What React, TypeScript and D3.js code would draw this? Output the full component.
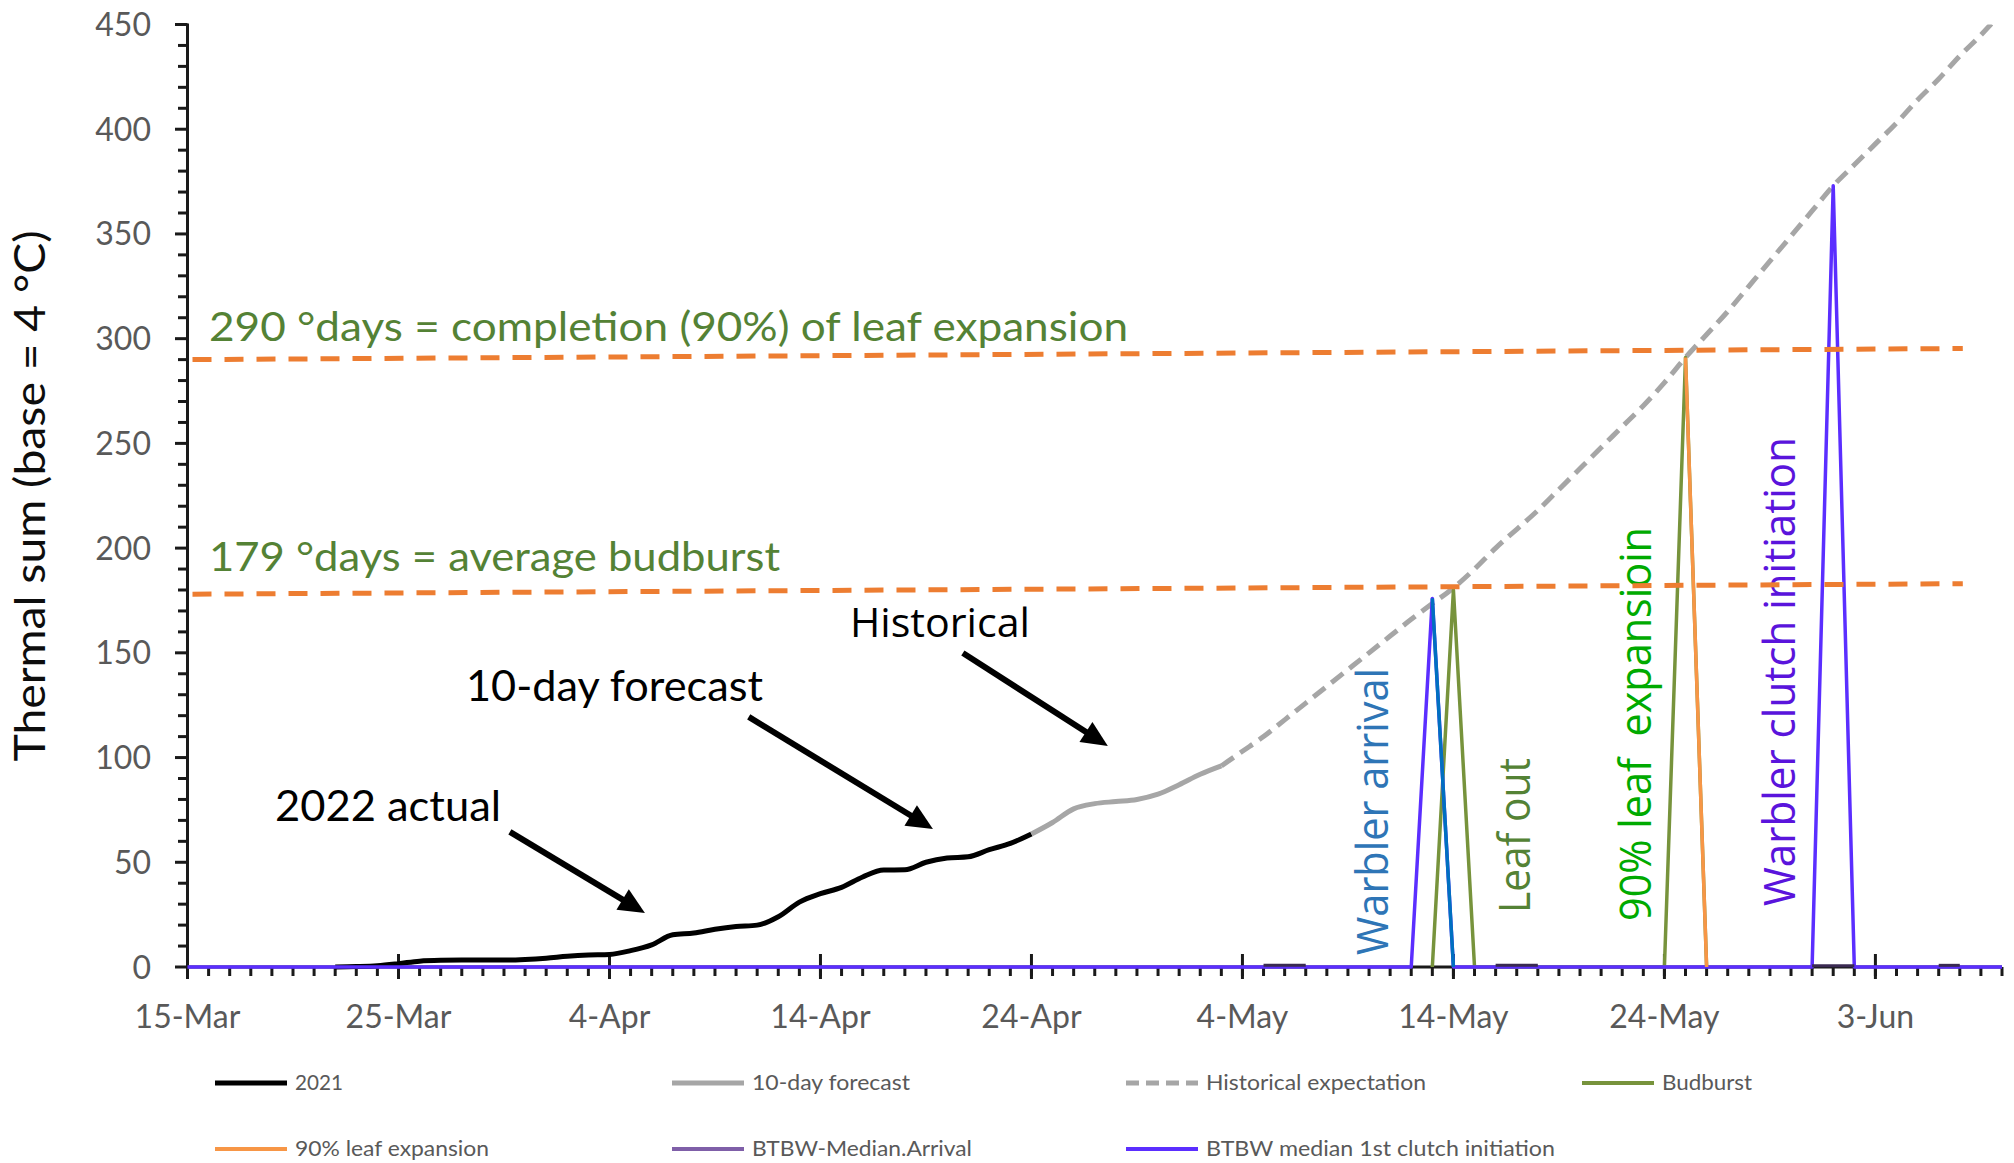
import React from "react";
import * as d3 from "d3";

// ---------- data ----------
const YEAR = 2022;
const axisStart = "15-Mar";
const axisEnd = "9-Jun";
const yTickValues = [0, 50, 100, 150, 200, 250, 300, 350, 400, 450];
const xTickLabels = ["15-Mar", "25-Mar", "4-Apr", "14-Apr", "24-Apr", "4-May", "14-May", "24-May", "3-Jun"];

// 2022 actual (legend "2021")
const actualSeries: [string, number][] = [
  ["22-Mar", 0], ["23-Mar", 0.2], ["24-Mar", 0.6], ["25-Mar", 1.6], ["26-Mar", 2.8], ["27-Mar", 3.2],
  ["28-Mar", 3.3], ["29-Mar", 3.3], ["30-Mar", 3.3], ["31-Mar", 3.6], ["1-Apr", 4.2], ["2-Apr", 5.1],
  ["3-Apr", 5.7], ["4-Apr", 6], ["5-Apr", 7.8], ["6-Apr", 10.6], ["7-Apr", 15.4], ["8-Apr", 16.2],
  ["9-Apr", 18], ["10-Apr", 19.3], ["11-Apr", 20], ["12-Apr", 24], ["13-Apr", 31], ["14-Apr", 35],
  ["15-Apr", 38], ["16-Apr", 43], ["17-Apr", 46.3], ["18-Apr", 46.4], ["19-Apr", 50], ["20-Apr", 52],
  ["21-Apr", 52.6], ["22-Apr", 56], ["23-Apr", 59], ["24-Apr", 63.5],
];
const forecastSeries: [string, number][] = [
  ["24-Apr", 63.5], ["25-Apr", 69], ["26-Apr", 75.5], ["27-Apr", 78], ["28-Apr", 79], ["29-Apr", 80],
  ["30-Apr", 82.5], ["1-May", 87], ["2-May", 92], ["3-May", 96],
];
const historicalSeries: [string, number][] = [
  ["3-May", 96], ["4-May", 103], ["5-May", 110], ["6-May", 118], ["7-May", 126], ["8-May", 134],
  ["9-May", 142], ["10-May", 150], ["11-May", 158], ["12-May", 166], ["13-May", 173.5], ["14-May", 181],
  ["15-May", 190], ["16-May", 200], ["17-May", 209], ["18-May", 218], ["19-May", 228], ["20-May", 238],
  ["21-May", 248], ["22-May", 258], ["23-May", 268], ["24-May", 279], ["25-May", 291], ["26-May", 302],
  ["27-May", 313], ["28-May", 325], ["29-May", 337], ["30-May", 349], ["31-May", 361], ["1-Jun", 373],
  ["2-Jun", 383], ["3-Jun", 393], ["4-Jun", 403], ["5-Jun", 414], ["6-Jun", 424], ["7-Jun", 435],
  ["8-Jun", 445], ["9-Jun", 456],
];
const budburstSeries: [string, number][] = [
  ["13-May", 0], ["14-May", 180], ["15-May", 0], ["24-May", 0], ["25-May", 291], ["26-May", 0],
];
const clutchSeries: [string, number][] = [
  ["15-Mar", 0], ["12-May", 0], ["13-May", 176], ["14-May", 0], ["31-May", 0], ["1-Jun", 373],
  ["2-Jun", 0], ["9-Jun", 0],
];
const arrivalSeries: [string, number][] = [["13-May", 176], ["14-May", 0]];
const leafExpansionSeries: [string, number][] = [["25-May", 291], ["26-May", 0]];
const medianArrivalMarks: [string, number][][] = [
  [["5-May", 0.8], ["7-May", 0.8]],
  [["16-May", 0.8], ["18-May", 0.8]],
  [["31-May", 0.6], ["2-Jun", 0.6]],
  [["6-Jun", 0.8], ["7-Jun", 0.8]],
];

// threshold reference lines (start value, end value)
const refLines = [
  { from: "15-Mar", to: "7-Jun", v0: 290, v1: 295.3 },
  { from: "15-Mar", to: "7-Jun", v0: 178, v1: 183 },
];

const legendItems = [
  { label: "2021", color: "#000000", w: 5, dash: "", len: 48 },
  { label: "10-day forecast", color: "#A6A6A6", w: 5, dash: "", len: 158 },
  { label: "Historical expectation", color: "#A6A6A6", w: 5, dash: "13 7", len: 220 },
  { label: "Budburst", color: "#77933C", w: 4, dash: "", len: 90 },
  { label: "90% leaf expansion", color: "#F79646", w: 4, dash: "", len: 194 },
  { label: "BTBW-Median.Arrival", color: "#7F5FA8", w: 4, dash: "", len: 220 },
  { label: "BTBW median 1st clutch initiation", color: "#5B2EFF", w: 4, dash: "", len: 349 },
];

// ---------- layout ----------
const W = 2014;
const H = 1163;
const FONT = "Lato, 'Open Sans', sans-serif";
const FONT2 = "'Open Sans', 'Noto Sans', sans-serif";
const legendCols = [215, 672, 1126, 1582];
const legendRows = [1083, 1149];

const parse = (s: string) => d3.utcParse("%d-%b-%Y")(`${s}-${YEAR}`) as Date;

export default function App() {
  const t0 = parse(axisStart);
  const t1 = parse(axisEnd);
  const x = d3.scaleUtc().domain([t0, t1]).range([187.5, 2002]);
  const y = d3.scaleLinear().domain([0, 450]).range([967, 24.5]);
  const xd = (day: number) => x(new Date(t0.getTime() + day * 864e5));

  const toPts = (arr: [string, number][]) => arr.map(([d, v]) => [parse(d), v] as [Date, number]);
  const straight = d3.line<[Date, number]>().x((d) => x(d[0])).y((d) => y(d[1]));
  const smooth = d3
    .line<[Date, number]>()
    .x((d) => x(d[0]))
    .y((d) => y(d[1]))
    .curve(d3.curveMonotoneX);

  const days = d3.utcDay.range(t0, d3.utcDay.offset(t1, 1));
  const majorDates = xTickLabels.map(parse);
  const fmt = (d: Date) => `${d.getUTCDate()}-${d3.utcFormat("%b")(d)}`;

  const yMinor = d3.range(0, 451, 10);

  const arrows = [
    { from: [15.28, 64.5], to: [21.68, 25.8] },
    { from: [26.6, 119.4], to: [35.33, 65.9] },
    { from: [36.75, 149.9], to: [43.62, 105.5] },
  ];
  const arrowEls = arrows.map((a, i) => {
    const x1 = xd(a.from[0]), y1 = y(a.from[1]);
    const x2 = xd(a.to[0]), y2 = y(a.to[1]);
    const dx = x2 - x1, dy = y2 - y1;
    const len = Math.hypot(dx, dy);
    const ux = dx / len, uy = dy / len;
    const hl = 26, hw = 12;
    const bx = x2 - ux * hl, by = y2 - uy * hl;
    const px = -uy, py = ux;
    return (
      <g key={i}>
        <line x1={x1} y1={y1} x2={bx + ux * 2} y2={by + uy * 2} stroke="#000" strokeWidth={6} />
        <polygon
          points={`${x2},${y2} ${bx + px * hw},${by + py * hw} ${bx - px * hw},${by - py * hw}`}
          fill="#000"
        />
      </g>
    );
  });

  const textAnn = [
    { text: "290 °days = completion (90%) of leaf expansion", day: 1.02, v: (967 - 341) / 2.0944, len: 919, size: 40, color: "#548235" },
    { text: "179 °days = average budburst", day: 1.02, v: (967 - 571) / 2.0944, len: 571, size: 40, color: "#548235" },
    { text: "Historical", day: 31.4, v: (967 - 637) / 2.0944, len: 180, size: 40, color: "#000" },
    { text: "10-day forecast", day: 13.2, v: (967 - 701) / 2.0944, len: 297, size: 42, color: "#000" },
    { text: "2022 actual", day: 4.15, v: (967 - 821) / 2.0944, len: 226, size: 42, color: "#000" },
  ];
  const vertAnn = [
    { text: "Warbler arrival", px: 1388, py: 955, len: 287, color: "#2E75B6" },
    { text: "Leaf out", px: 1530, py: 913, len: 155, color: "#548235" },
    { text: "90% leaf  expansioin", px: 1651, py: 921, len: 394, color: "#00AA00" },
    { text: "Warbler clutch initiation", px: 1795, py: 906, len: 469, color: "#5A14DC" },
  ];

  return (
    <svg
      width={W}
      height={H}
      viewBox={`0 0 ${W} ${H}`}
      style={{ position: "absolute", left: 0, top: 0, background: "#fff", display: "block" }}
    >
      <defs>
        <clipPath id="plot">
          <rect x={185} y={y(450)} width={1820} height={y(0) - y(450) + 10} />
        </clipPath>
      </defs>
      <rect width={W} height={H} fill="#fff" />

      {/* Y axis */}
      <g stroke="#1a1a1a" strokeWidth={3}>
        <line x1={187.5} x2={187.5} y1={y(450) - 1} y2={y(0)} />
        {yMinor.map((v) => (
          <line key={v} x1={v % 50 === 0 ? 175 : 178} x2={187.5} y1={y(v)} y2={y(v)} />
        ))}
      </g>
      <g fontFamily={FONT} fontSize={32} fill="#595959" textAnchor="end">
        {yTickValues.map((v) => (
          <text key={v} x={151} y={y(v)} dy="0.36em">
            {v}
          </text>
        ))}
      </g>
      <text
        transform={`translate(45,496) rotate(-90)`}
        textAnchor="middle"
        fontFamily={FONT}
        fontSize={42}
        fill="#0d0d0d"
        textLength={531}
        lengthAdjust="spacingAndGlyphs"
      >
        Thermal sum (base = 4 °C)
      </text>

      {/* X axis */}
      <g stroke="#1a1a1a" strokeWidth={3}>
        <line x1={187.5} x2={x(t1)} y1={y(0)} y2={y(0)} />
        {days.map((d) => (
          <line key={+d} x1={x(d)} x2={x(d)} y1={y(0)} y2={y(0) + 9} />
        ))}
        {majorDates.map((d) => (
          <line key={+d} x1={x(d)} x2={x(d)} y1={y(0) - 13} y2={y(0) + 12} />
        ))}
      </g>
      <g fontFamily={FONT} fontSize={32} fill="#595959" textAnchor="middle">
        {majorDates.map((d) => (
          <text key={+d} x={x(d)} y={1028}>
            {fmt(d)}
          </text>
        ))}
      </g>

      {/* series */}
      <g clipPath="url(#plot)" fill="none" strokeLinejoin="round">
        <path d={smooth(toPts(actualSeries)) || ""} stroke="#000" strokeWidth={5} />
        <path d={smooth(toPts(forecastSeries)) || ""} stroke="#A6A6A6" strokeWidth={5} />
        <path d={smooth(toPts(historicalSeries)) || ""} stroke="#A6A6A6" strokeWidth={5} strokeDasharray="15 8" />
        <path d={straight(toPts(budburstSeries)) || ""} stroke="#77933C" strokeWidth={3.5} />
        <path d={straight(toPts(clutchSeries)) || ""} stroke="#5B2EFF" strokeWidth={3.5} />
        <path d={straight(toPts(arrivalSeries)) || ""} stroke="#0070C0" strokeWidth={3.5} />
        <path d={straight(toPts(leafExpansionSeries)) || ""} stroke="#F79646" strokeWidth={3.5} />
        {medianArrivalMarks.map((seg, i) => (
          <path key={i} d={straight(toPts(seg)) || ""} stroke="#3A2A52" strokeWidth={3} />
        ))}
      </g>

      {/* text annotations */}
      {textAnn.map((t) => (
        <text
          key={t.text}
          x={xd(t.day)}
          y={y(t.v)}
          fontFamily={t.text === "Historical" ? FONT2 : FONT}
          fontSize={t.size}
          fill={t.color}
          textLength={t.len}
          lengthAdjust="spacingAndGlyphs"
        >
          {t.text}
        </text>
      ))}
      {vertAnn.map((t) => (
        <text
          key={t.text}
          transform={`translate(${t.px},${t.py}) rotate(-90)`}
          fontFamily={FONT2}
          fontSize={43}
          fill={t.color}
          textLength={t.len}
          lengthAdjust="spacingAndGlyphs"
          style={{ whiteSpace: "pre" }}
        >
          {t.text}
        </text>
      ))}

      {/* reference dashed lines */}
      {refLines.map((r, i) => (
        <line
          key={i}
          x1={x(parse(r.from)) + 5}
          x2={x(parse(r.to)) + 3}
          y1={y(r.v0)}
          y2={y(r.v1)}
          stroke="#ED7D31"
          strokeWidth={5}
          strokeDasharray="19 13"
        />
      ))}

      {arrowEls}

      {/* legend */}
      {legendItems.map((it, i) => {
        const col = i < 4 ? i : i - 4;
        const row = i < 4 ? 0 : 1;
        const lx = legendCols[col];
        const ly = legendRows[row];
        return (
          <g key={it.label}>
            <line
              x1={lx}
              x2={lx + 72}
              y1={ly}
              y2={ly}
              stroke={it.color}
              strokeWidth={it.w}
              strokeDasharray={it.dash || undefined}
            />
            <text
              x={lx + 80}
              y={ly}
              dy="0.33em"
              fontFamily={FONT}
              fontSize={21}
              fill="#595959"
              textLength={it.len}
              lengthAdjust="spacingAndGlyphs"
            >
              {it.label}
            </text>
          </g>
        );
      })}
    </svg>
  );
}
